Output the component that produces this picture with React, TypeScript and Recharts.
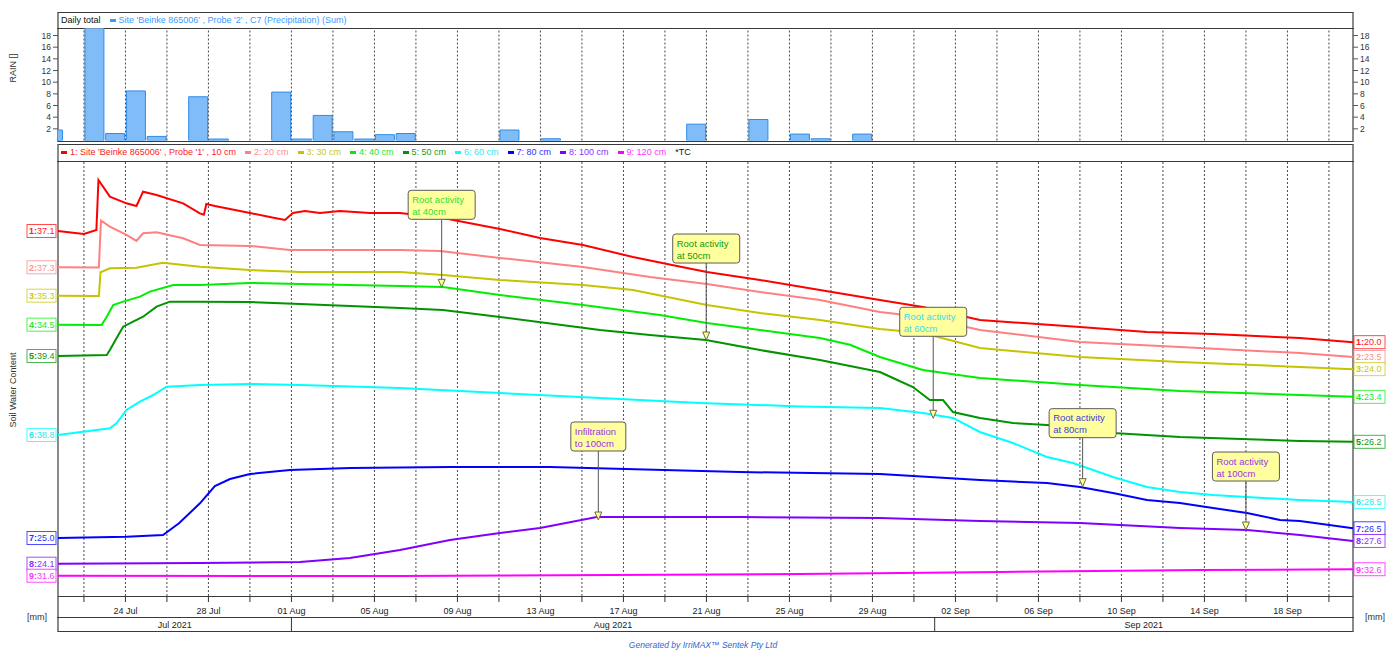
import React from 'react';
import { ComposedChart, LineChart, Bar, Line, XAxis, YAxis, ReferenceLine, ReferenceDot, Legend } from 'recharts';

const FONT = '"Liberation Sans", Arial, sans-serif';

// x values are days since 22 Jul 2021 00:00
const START = Date.UTC(2021, 6, 22);
const X_MIN = -1.25;
const X_MAX = 61.16;
const MON = ['Jan', 'Feb', 'Mar', 'Apr', 'May', 'Jun', 'Jul', 'Aug', 'Sep', 'Oct', 'Nov', 'Dec'];
const dayOf = (iso: string) => (Date.parse(iso + 'T00:00:00Z') - START) / 86400000;
const fmtDay = (d: number) => {
  const t = new Date(START + d * 86400000);
  return `${String(t.getUTCDate()).padStart(2, '0')} ${MON[t.getUTCMonth()]}`;
};

// ---- rain (daily total, mm) ----
const rainDates = [
  '2021-07-20', '2021-07-22', '2021-07-23', '2021-07-24', '2021-07-25', '2021-07-27', '2021-07-28',
  '2021-07-31', '2021-08-01', '2021-08-02', '2021-08-03', '2021-08-04', '2021-08-05', '2021-08-06',
  '2021-08-11', '2021-08-13', '2021-08-20', '2021-08-23', '2021-08-25', '2021-08-26', '2021-08-28',
];
const rainMm = [1.8, 20, 1.2, 8.5, 0.7, 7.5, 0.25, 8.3, 0.25, 4.3, 1.5, 0.25, 1.0, 1.2, 1.8, 0.3, 2.8, 3.6, 1.1, 0.3, 1.1];
const rainTicks = [2, 4, 6, 8, 10, 12, 14, 16, 18];

// ---- soil water content, [day, value] ----
const swc10: [number, number][] = [
  [-1.25, 37.1], [-0.43, 36.79], [0, 36.64], [0.6, 37.25], [0.7, 44.95], [1.25, 42.38], [2.05, 41.36], [2.53, 40.95],
  [2.85, 43.15], [3.5, 42.64], [4.78, 41.36], [5.59, 39.82], [5.78, 39.6], [5.9, 41.25], [6.31, 40.95], [7.04, 40.48],
  [8.0, 39.87], [9.2, 39.1], [9.69, 38.79], [10.07, 39.87], [10.65, 40.18], [11.37, 39.87], [12.34, 40.18], [13.78, 39.87],
  [15.23, 39.87], [17.3, 39.1], [20.05, 37.41], [21.98, 36.02], [24.05, 34.95], [26.46, 33.1], [28.58, 31.72], [30.02, 30.79],
  [32.58, 29.56], [35.47, 28.02], [38.36, 26.48], [40.43, 25.41], [43.18, 23.41], [48.0, 22.33], [51.23, 21.56], [54.41, 21.25],
  [58.6, 20.64], [61.16, 20.0],
];
const swc20: [number, number][] = [
  [-1.25, 37.3], [0.72, 37.27], [0.82, 44.5], [1.25, 43.55], [2.05, 42.27], [2.53, 41.35], [2.85, 42.53], [3.5, 42.68],
  [4.78, 41.76], [5.59, 40.73], [8.0, 40.58], [9.93, 39.96], [11.86, 39.96], [15.23, 39.96], [17.16, 39.81], [20.05, 38.73],
  [24.05, 37.35], [27.28, 35.81], [30.02, 34.73], [32.58, 33.5], [35.47, 32.27], [38.36, 30.42], [40.43, 29.65], [43.18, 27.65],
  [48.0, 25.8], [52.82, 25.03], [58.6, 24.11], [61.16, 23.5],
];
const swc30: [number, number][] = [
  [-1.25, 35.3], [0.72, 35.25], [0.8, 38.9], [1.25, 39.52], [2.53, 39.61], [3.8, 40.38], [5.59, 39.76], [8.0, 39.25],
  [10.41, 38.95], [15.23, 38.95], [17.3, 38.48], [20.05, 37.72], [24.05, 36.95], [26.46, 36.18], [30.02, 33.87], [32.58, 32.64],
  [35.47, 31.56], [38.36, 30.18], [40.43, 29.56], [43.18, 27.26], [48.0, 25.87], [52.82, 25.1], [58.6, 24.33], [61.16, 24.0],
];
const swc40: [number, number][] = [
  [-1.25, 34.5], [0.85, 34.45], [1.1, 35.73], [1.41, 37.53], [1.89, 38.04], [2.7, 38.81], [3.18, 39.58], [4.3, 40.61],
  [5.59, 40.61], [8.0, 40.92], [10.41, 40.76], [15.23, 40.45], [17.3, 40.3], [20.05, 39.07], [24.05, 37.53], [27.76, 35.99],
  [30.02, 34.76], [32.58, 33.68], [35.47, 32.46], [36.92, 31.4], [38.36, 29.53], [40.43, 27.53], [43.18, 26.3], [48.0, 25.22],
  [52.82, 24.3], [58.6, 23.68], [61.16, 23.4],
];
const swc50: [number, number][] = [
  [-1.25, 39.4], [1.1, 39.55], [1.25, 40.32], [1.57, 42.12], [1.89, 43.91], [2.37, 44.68], [2.85, 45.45], [3.5, 46.99],
  [4.14, 47.76], [5.59, 47.76], [8.0, 47.71], [10.41, 47.4], [15.23, 46.78], [17.3, 46.48], [20.05, 45.4], [24.87, 43.4],
  [27.28, 42.63], [29.98, 41.86], [32.58, 40.32], [35.47, 38.78], [38.36, 36.94], [38.99, 36.02], [39.95, 34.63], [40.77, 32.63],
  [41.4, 32.63], [41.88, 30.78], [43.18, 29.86], [44.77, 29.09], [46.41, 28.78], [49.59, 27.55], [52.82, 26.94], [58.6, 26.32],
  [61.16, 26.2],
];
const swc60: [number, number][] = [
  [-1.25, 38.8], [1.25, 39.83], [1.57, 40.6], [2.05, 42.65], [2.7, 43.92], [3.34, 44.95], [3.98, 46.23], [5.59, 46.49],
  [8.0, 46.65], [10.41, 46.49], [15.23, 46.03], [20.05, 45.26], [24.87, 44.49], [29.69, 43.72], [34.51, 43.2], [38.36, 42.95],
  [40.43, 42.18], [41.88, 41.42], [43.18, 39.26], [44.77, 37.57], [46.41, 35.42], [47.66, 34.49], [48.63, 33.42], [49.59, 32.34],
  [51.23, 30.8], [52.82, 30.03], [54.41, 29.57], [58.6, 28.8], [61.16, 28.5],
];
const swc80: [number, number][] = [
  [-1.25, 25.0], [2.05, 25.2], [3.81, 25.46], [4.58, 27.26], [5.59, 30.34], [6.31, 33.0], [7.04, 34.08], [8.0, 34.85],
  [9.93, 35.46], [12.82, 35.77], [17.64, 35.92], [22.46, 35.92], [31.61, 35.15], [38.36, 34.85], [43.18, 33.92], [46.41, 33.46],
  [48.0, 32.85], [49.59, 31.92], [51.23, 30.85], [52.82, 30.38], [54.41, 29.62], [56.05, 28.85], [57.64, 27.77], [58.6, 27.62],
  [61.16, 26.5],
];
const swc100: [number, number][] = [
  [-1.25, 24.1], [5.59, 24.21], [10.41, 24.36], [12.82, 24.98], [15.23, 26.21], [17.64, 27.75], [20.05, 28.82], [21.98, 29.59],
  [24.72, 31.28], [31.61, 31.28], [38.36, 31.13], [43.18, 30.67], [48.0, 30.36], [52.82, 29.59], [56.05, 29.28], [58.6, 28.52],
  [61.16, 27.6],
];
const swc120: [number, number][] = [
  [-1.25, 31.6], [15.23, 31.55], [34.51, 31.86], [44.14, 32.17], [53.78, 32.48], [61.16, 32.6],
];

const seriesNames = [
  "1: Site 'Beinke 865006' , Probe '1' , 10 cm", '2: 20 cm', '3: 30 cm', '4: 40 cm', '5: 50 cm',
  '6: 60 cm', '7: 80 cm', '8: 100 cm', '9: 120 cm',
];
const seriesData = [swc10, swc20, swc30, swc40, swc50, swc60, swc80, swc100, swc120];

// annotations: text, series index, day, value
const noteText = [
  ['Root activity', 'at 40cm'], ['Root activity', 'at 50cm'], ['Root activity', 'at 60cm'],
  ['Root activity', 'at 80cm'], ['Root activity', 'at 100cm'], ['Infiltration', 'to 100cm'],
];
const noteSeries = [3, 4, 5, 6, 7, 7];
const noteDay = [17.24, 29.99, 40.93, 48.13, 56.0, 24.79];
const noteValue = [40.25, 41.86, 41.37, 32.9, 29.28, 30.82];

const gridDays = [0, 2, 4, 6, 8, 10, 12, 14, 16, 18, 20, 22, 24, 26, 28, 30, 32, 34, 36, 38, 40, 42, 44, 46, 48, 50, 52, 54, 56, 58, 60];
const labelDays = [2, 6, 10, 14, 18, 22, 26, 30, 34, 38, 42, 46, 50, 54, 58];
const monthLabels = ['Jul 2021', 'Aug 2021', 'Sep 2021'];
const monthStarts = ['2021-07-01', '2021-08-01', '2021-09-01'];

// ---- styling / layout ----
const colors = ['#FF0000', '#FF8080', '#C4C400', '#00EE00', '#009400', '#00FFFF', '#0000FF', '#8000FF', '#FF00FF'];
const textColors = ['#FF2020', '#FF9090', '#C8C820', '#22E822', '#139913', '#30E8E8', '#3030FF', '#8A30FF', '#FF30FF'];
const yDomains: [number, number][] = [
  [-19.05, 47.87], [-13.27, 53.65], [-10.9, 56.02], [-7.24, 59.68], [2.48, 69.4],
  [14.03, 80.95], [16.08, 83.0], [19.13, 86.05], [28.48, 95.4],
];
const noteColors = ['#33DD33', '#119911', '#33DDEE', '#4040DD', '#9933E6', '#9933E6'];
const noteWidth = [67, 67, 67, 67, 67, 55];
const noteLift = [68, 77, 82, 49, 49, 69];
const PLOT_B = 596;
const GRID = { stroke: '#4a4a4a', strokeDasharray: '2 2' };

const rainData = rainDates.map((d, i) => ({ d: dayOf(d) + 0.5, mm: rainMm[i] }));
const monthBounds = monthStarts.map(s => Math.max(X_MIN, dayOf(s)));
const monthEnds = [...monthBounds.slice(1), X_MAX];
const monthCenters = monthBounds.map((b, i) => (b + monthEnds[i]) / 2);
const axisTicks = Array.from(new Set([...gridDays, ...monthBounds.slice(1), ...monthCenters])).sort((a, b) => a - b);

const AxisTick = (props: any) => {
  const { x, payload } = props;
  const v = payload.value;
  const mi = monthCenters.indexOf(v);
  return (
    <g fontFamily={FONT}>
      {gridDays.includes(v) && <line x1={x} x2={x} y1={PLOT_B} y2={PLOT_B + 6} stroke="#333" />}
      {labelDays.includes(v) && (
        <text x={x} y={PLOT_B + 17.5} textAnchor="middle" fontSize={9} fill="#222">{fmtDay(v)}</text>
      )}
      {monthBounds.slice(1).includes(v) && <line x1={x} x2={x} y1={PLOT_B + 21} y2={PLOT_B + 35} stroke="#333" />}
      {mi >= 0 && (
        <text x={x} y={PLOT_B + 32} textAnchor="middle" fontSize={9} fill="#222">{monthLabels[mi]}</text>
      )}
    </g>
  );
};

const tagShape = (i: number, value: number, side: 'l' | 'r') => (p: any) => {
  const { cx, cy } = p;
  const x = side === 'l' ? cx - 31 : cx + 1;
  return (
    <g fontFamily={FONT}>
      <rect x={x} y={cy - 6.5} width={side === 'l' ? 29 : 31} height={13} fill="#fff" stroke={colors[i]} strokeOpacity={0.7} />
      <text x={x + 2} y={cy + 3.3} fontSize={9} fill={textColors[i]}>
        <tspan fontWeight="bold">{i + 1}:</tspan>
        {value.toFixed(1)}
      </text>
    </g>
  );
};

const noteShape = (k: number) => (p: any) => {
  const { cx, cy } = p;
  const h = 29;
  const w = noteWidth[k];
  const top = cy - noteLift[k] - h;
  return (
    <g fontFamily={FONT}>
      <line x1={cx} x2={cx} y1={top + h} y2={cy - 8} stroke="#555" />
      <path d={`M${cx - 3.5},${cy - 8} L${cx + 3.5},${cy - 8} L${cx},${cy} Z`} fill="#FFFF99" stroke="#6b6b40" />
      <rect x={cx - w / 2} y={top} width={w} height={h} rx={3} fill="#FFFF9E" stroke="#5c5c5c" />
      <text x={cx - w / 2 + 4} y={top + 12.5} fontSize={9.5} fill={noteColors[k]}>{noteText[k][0]}</text>
      <text x={cx - w / 2 + 4} y={top + 24.5} fontSize={9.5} fill={noteColors[k]}>{noteText[k][1]}</text>
    </g>
  );
};

const RainLegend = (props: any) => (
  <div style={{ display: 'flex', alignItems: 'center', fontSize: 9, fontFamily: FONT, whiteSpace: 'nowrap', lineHeight: '13px' }}>
    <span style={{ color: '#111' }}>Daily total</span>
    {(props.payload || []).map((p: any) => (
      <span key={p.value} style={{ display: 'flex', alignItems: 'center', marginLeft: 9, color: '#3A9BFF' }}>
        <span style={{ width: 6, height: 3, background: '#3A9BFF', marginRight: 3 }} />
        {p.value}
      </span>
    ))}
  </div>
);

const SwcLegend = (props: any) => (
  <div style={{ display: 'flex', alignItems: 'center', fontSize: 9, fontFamily: FONT, whiteSpace: 'nowrap', lineHeight: '13px' }}>
    {(props.payload || []).map((p: any, i: number) => (
      <span key={p.value} style={{ display: 'flex', alignItems: 'center', marginRight: 9, color: textColors[i] }}>
        <span style={{ width: 6, height: 3, background: colors[i], marginRight: 3 }} />
        {p.value}
      </span>
    ))}
    <span style={{ color: '#111' }}>*TC</span>
  </div>
);

const box = (top: number, height: number): React.CSSProperties => ({
  position: 'absolute', left: 57, top, width: 1297, height, boxSizing: 'border-box',
  borderTop: '1px solid #3a3a3a', borderBottom: '1px solid #3a3a3a',
  borderLeft: '2px solid #8a8a8a', borderRight: '2px solid #8a8a8a',
});
const hline = (top: number): React.CSSProperties => ({ position: 'absolute', left: 57, top, width: 1297, height: 1, background: '#3a3a3a' });
const small: React.CSSProperties = { position: 'absolute', fontFamily: FONT, fontSize: 9, color: '#333', whiteSpace: 'nowrap' };

export default function App() {
  return (
    <div style={{ position: 'absolute', left: 0, top: 0, width: 1396, height: 650, background: '#fff' }}>
      <div style={box(12, 129.5)} />
      <div style={hline(28)} />
      <div style={box(144, 453)} />
      <div style={hline(161)} />
      <div style={box(596, 36)} />
      <div style={hline(617)} />

      <div style={{ ...small, left: 13, top: 68, transform: 'translate(-50%, -50%) rotate(-90deg)' }}>RAIN []</div>
      <div style={{ ...small, left: 13, top: 390, transform: 'translate(-50%, -50%) rotate(-90deg)' }}>Soil Water Content</div>
      <div style={{ ...small, left: 27, top: 612 }}>[mm]</div>
      <div style={{ ...small, left: 1365, top: 612 }}>[mm]</div>
      <div style={{ ...small, left: 703, top: 640, transform: 'translateX(-50%)', fontStyle: 'italic', fontSize: 8.5, color: '#3366CC' }}>
        Generated by IrriMAX™ Sentek Pty Ltd
      </div>

      <div style={{ position: 'absolute', left: 0, top: 0 }}>
        <ComposedChart width={1396} height={150} data={rainData} margin={{ top: 28.3, right: 13, bottom: 9.5, left: 28 }}>
          <XAxis dataKey="d" type="number" domain={[X_MIN, X_MAX]} allowDataOverflow hide />
          <YAxis yAxisId="l" type="number" domain={[0, 19.24]} allowDataOverflow ticks={rainTicks} interval={0} width={30}
            axisLine={false} tickSize={5} tickMargin={2} tickLine={{ stroke: '#555' }}
            tick={{ fontSize: 8.5, fill: '#333', fontFamily: FONT }} />
          <YAxis yAxisId="r" orientation="right" type="number" domain={[0, 19.24]} allowDataOverflow ticks={rainTicks} interval={0} width={30}
            axisLine={false} tickSize={5} tickMargin={2} tickLine={{ stroke: '#555' }}
            tick={{ fontSize: 8.5, fill: '#333', fontFamily: FONT }} />
          {gridDays.map(d => <ReferenceLine key={d} x={d} yAxisId="l" {...GRID} />)}
          <Bar yAxisId="l" dataKey="mm" name="Site 'Beinke 865006' , Probe '2' , C7 (Precipitation) (Sum)"
            fill="#80BDF8" stroke="#2F8BE8" strokeWidth={1} barSize={19} isAnimationActive={false} />
          <Legend layout="horizontal" verticalAlign="middle" align="center" content={RainLegend}
            wrapperStyle={{ left: 61, top: 14, width: 'auto', height: 13 }} />
        </ComposedChart>
      </div>

      <div style={{ position: 'absolute', left: 0, top: 0 }}>
        <LineChart width={1396} height={640} margin={{ top: 161, right: 43, bottom: 23, left: 58 }}>
          <XAxis dataKey="d" type="number" domain={[X_MIN, X_MAX]} ticks={axisTicks} interval={0} height={21}
            axisLine={false} tickLine={false} tick={AxisTick} />
          {yDomains.map((dom, i) => (
            <YAxis key={i} yAxisId={`s${i}`} type="number" domain={dom} hide />
          ))}
          {gridDays.map(d => <ReferenceLine key={d} x={d} yAxisId="s0" {...GRID} />)}
          {seriesData.map((rows, i) => (
            <Line key={i} yAxisId={`s${i}`} data={rows.map(([d, v]) => ({ d, v }))} dataKey="v" name={seriesNames[i]}
              stroke={colors[i]} strokeWidth={2} dot={false} type="linear" isAnimationActive={false} />
          ))}
          {seriesData.map((rows, i) => (
            <ReferenceDot key={`l${i}`} yAxisId={`s${i}`} x={rows[0][0]} y={rows[0][1]} r={1} ifOverflow="visible"
              shape={tagShape(i, rows[0][1], 'l')} />
          ))}
          {seriesData.map((rows, i) => (
            <ReferenceDot key={`r${i}`} yAxisId={`s${i}`} x={rows[rows.length - 1][0]} y={rows[rows.length - 1][1]} r={1}
              ifOverflow="visible" shape={tagShape(i, rows[rows.length - 1][1], 'r')} />
          ))}
          {noteText.map((_, k) => (
            <ReferenceDot key={`n${k}`} yAxisId={`s${noteSeries[k]}`} x={noteDay[k]} y={noteValue[k]} r={1}
              ifOverflow="visible" shape={noteShape(k)} />
          ))}
          <Legend layout="horizontal" verticalAlign="middle" align="center" content={SwcLegend}
            wrapperStyle={{ left: 61, top: 146, width: 'auto', height: 13 }} />
        </LineChart>
      </div>
    </div>
  );
}
